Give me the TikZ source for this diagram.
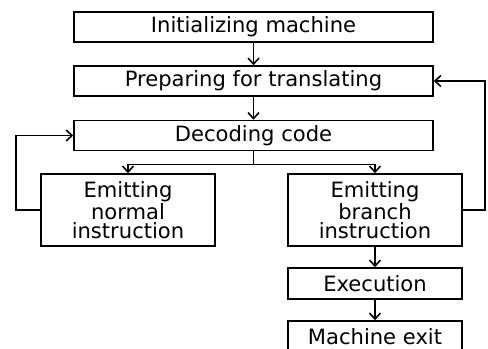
\documentclass[tikz,border=0pt]{standalone}
\usepackage{fontspec}
\setmainfont{DejaVu Sans}
\usetikzlibrary{arrows.meta,positioning}

\begin{document}
\begin{tikzpicture}[
  x=0.02cm, y=-0.02cm,
  block/.style={rectangle, draw=black, line width=0.9pt, align=center, inner sep=0pt, font=\fontsize{12}{11}\selectfont},
  wide block/.style={block, minimum width=7.18cm, minimum height=0.6cm},
  side block/.style={block, minimum width=3.48cm, minimum height=1.44cm},
  flow/.style={->, line width=0.9pt},
  >={Straight Barb[length=1.2mm, width=2.2mm]}
]
  \useasboundingbox (0,0) rectangle (488,349);

  % main column
  \node[wide block] (init) at (253.5, 27)  {Initializing machine};
  \node[wide block] (prep) at (253.5, 81)  {Preparing for translating};
  \node[wide block] (dec)  at (253.5, 135.5) {Decoding code};

  % the two emitters
  \node[side block] (normal) at (128, 210) {Emitting\\normal\\instruction};
  \node[side block] (branch) at (375, 210) {Emitting\\branch\\instruction};

  % branch path
  \node[block, minimum width=3.48cm, minimum height=0.62cm] (exec) at (375, 283.5) {Execution};
  \node[block, minimum width=3.48cm, minimum height=0.62cm] (exit) at (375, 336.5) {Machine exit};

  \draw[flow] (init) -- (prep);
  \draw[flow] (prep) -- (dec);
  \draw[flow] (dec.south) -- ++(0,13) -| (normal.north);
  \draw[flow] (dec.south) -- ++(0,13) -| (branch.north);
  \draw[flow] (branch) -- (exec);
  \draw[flow] (exec) -- (exit);

  % loops back
  \draw[flow] (normal.west) -- ++(-24,0) |- (dec.west);
  \draw[flow] (branch.east) -- ++(22,0) |- (prep.east);
\end{tikzpicture}
\end{document}
